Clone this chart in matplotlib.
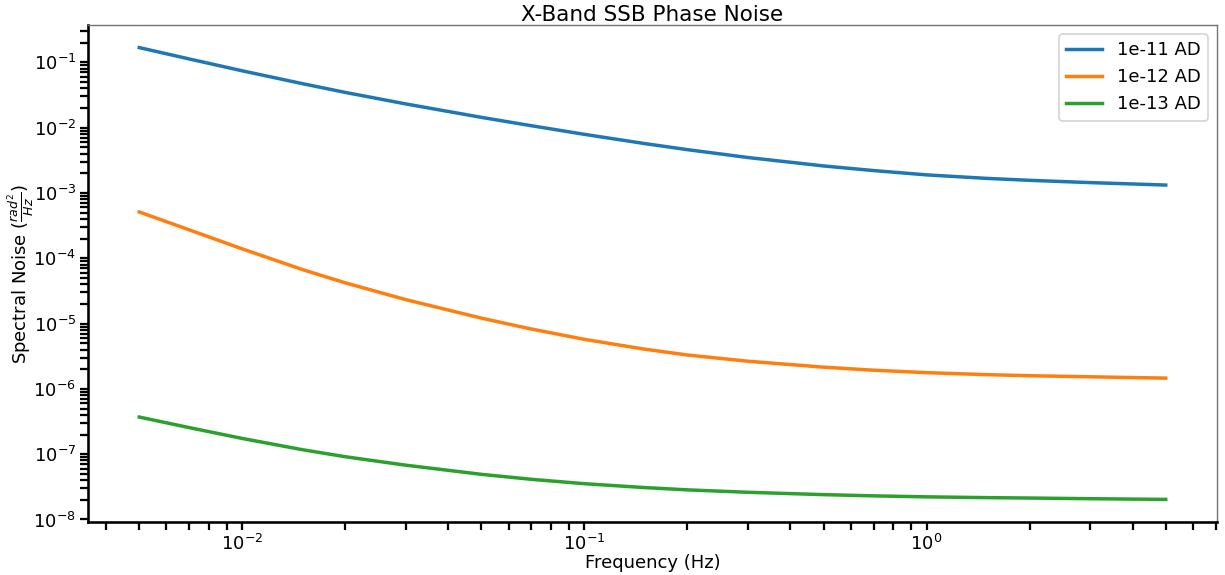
import numpy as np
import matplotlib
matplotlib.use("Agg")
import matplotlib.pyplot as plt

# offset frequencies (Hz)
freq = [0.005, 0.007, 0.01, 0.015, 0.02, 0.03, 0.05, 0.07, 0.1, 0.15,
        0.2, 0.3, 0.5, 0.7, 1.0, 1.5, 2.0, 3.0, 5.0]

# SSB phase noise (rad^2/Hz) for each Allan deviation level
noise_1e11 = [0.168, 0.1125, 0.0741, 0.0471, 0.0346, 0.0231, 0.01436,
              0.01069, 0.00789, 0.00570, 0.00460, 0.00349, 0.00259, 0.00220,
              0.00189, 0.00167, 0.00156, 0.00144, 0.00132]
noise_1e12 = [5.11e-4, 2.72e-4, 1.39e-4, 6.70e-5, 4.20e-5, 2.33e-5, 1.21e-5,
              8.24e-6, 5.73e-6, 4.05e-6, 3.30e-6, 2.65e-6, 2.15e-6, 1.93e-6,
              1.77e-6, 1.65e-6, 1.59e-6, 1.53e-6, 1.46e-6]
noise_1e13 = [3.70e-7, 2.55e-7, 1.74e-7, 1.17e-7, 9.14e-8, 6.79e-8, 4.91e-8,
              4.12e-8, 3.53e-8, 3.08e-8, 2.84e-8, 2.61e-8, 2.40e-8, 2.30e-8,
              2.22e-8, 2.16e-8, 2.13e-8, 2.08e-8, 2.03e-8]

labels = ["1e-11 AD", "1e-12 AD", "1e-13 AD"]

plt.rcParams["font.size"] = 10.4

fig = plt.figure(figsize=(9.8, 4.6), dpi=125)
ax = fig.add_axes([0.0718, 0.0922, 0.9217, 0.8643])

for series, label in zip([noise_1e11, noise_1e12, noise_1e13], labels):
    ax.plot(freq, series, linewidth=2.0, label=label)

ax.set_xscale("log")
ax.set_yscale("log")

ax.spines["left"].set_linewidth(1.5)
ax.spines["bottom"].set_linewidth(1.5)
ax.spines["top"].set_color("0.45")
ax.spines["right"].set_color("0.45")

ax.tick_params(which="both", length=4.8, width=1.3, pad=2)

ax.set_title("X-Band SSB Phase Noise", fontsize=12.4, pad=2)
ax.set_xlabel("Frequency (Hz)", labelpad=0)
ax.set_ylabel(r"Spectral Noise ($\frac{rad^2}{Hz}$)", labelpad=-2)
ax.legend(loc="upper right")

fig.savefig("out.png", dpi=125)
